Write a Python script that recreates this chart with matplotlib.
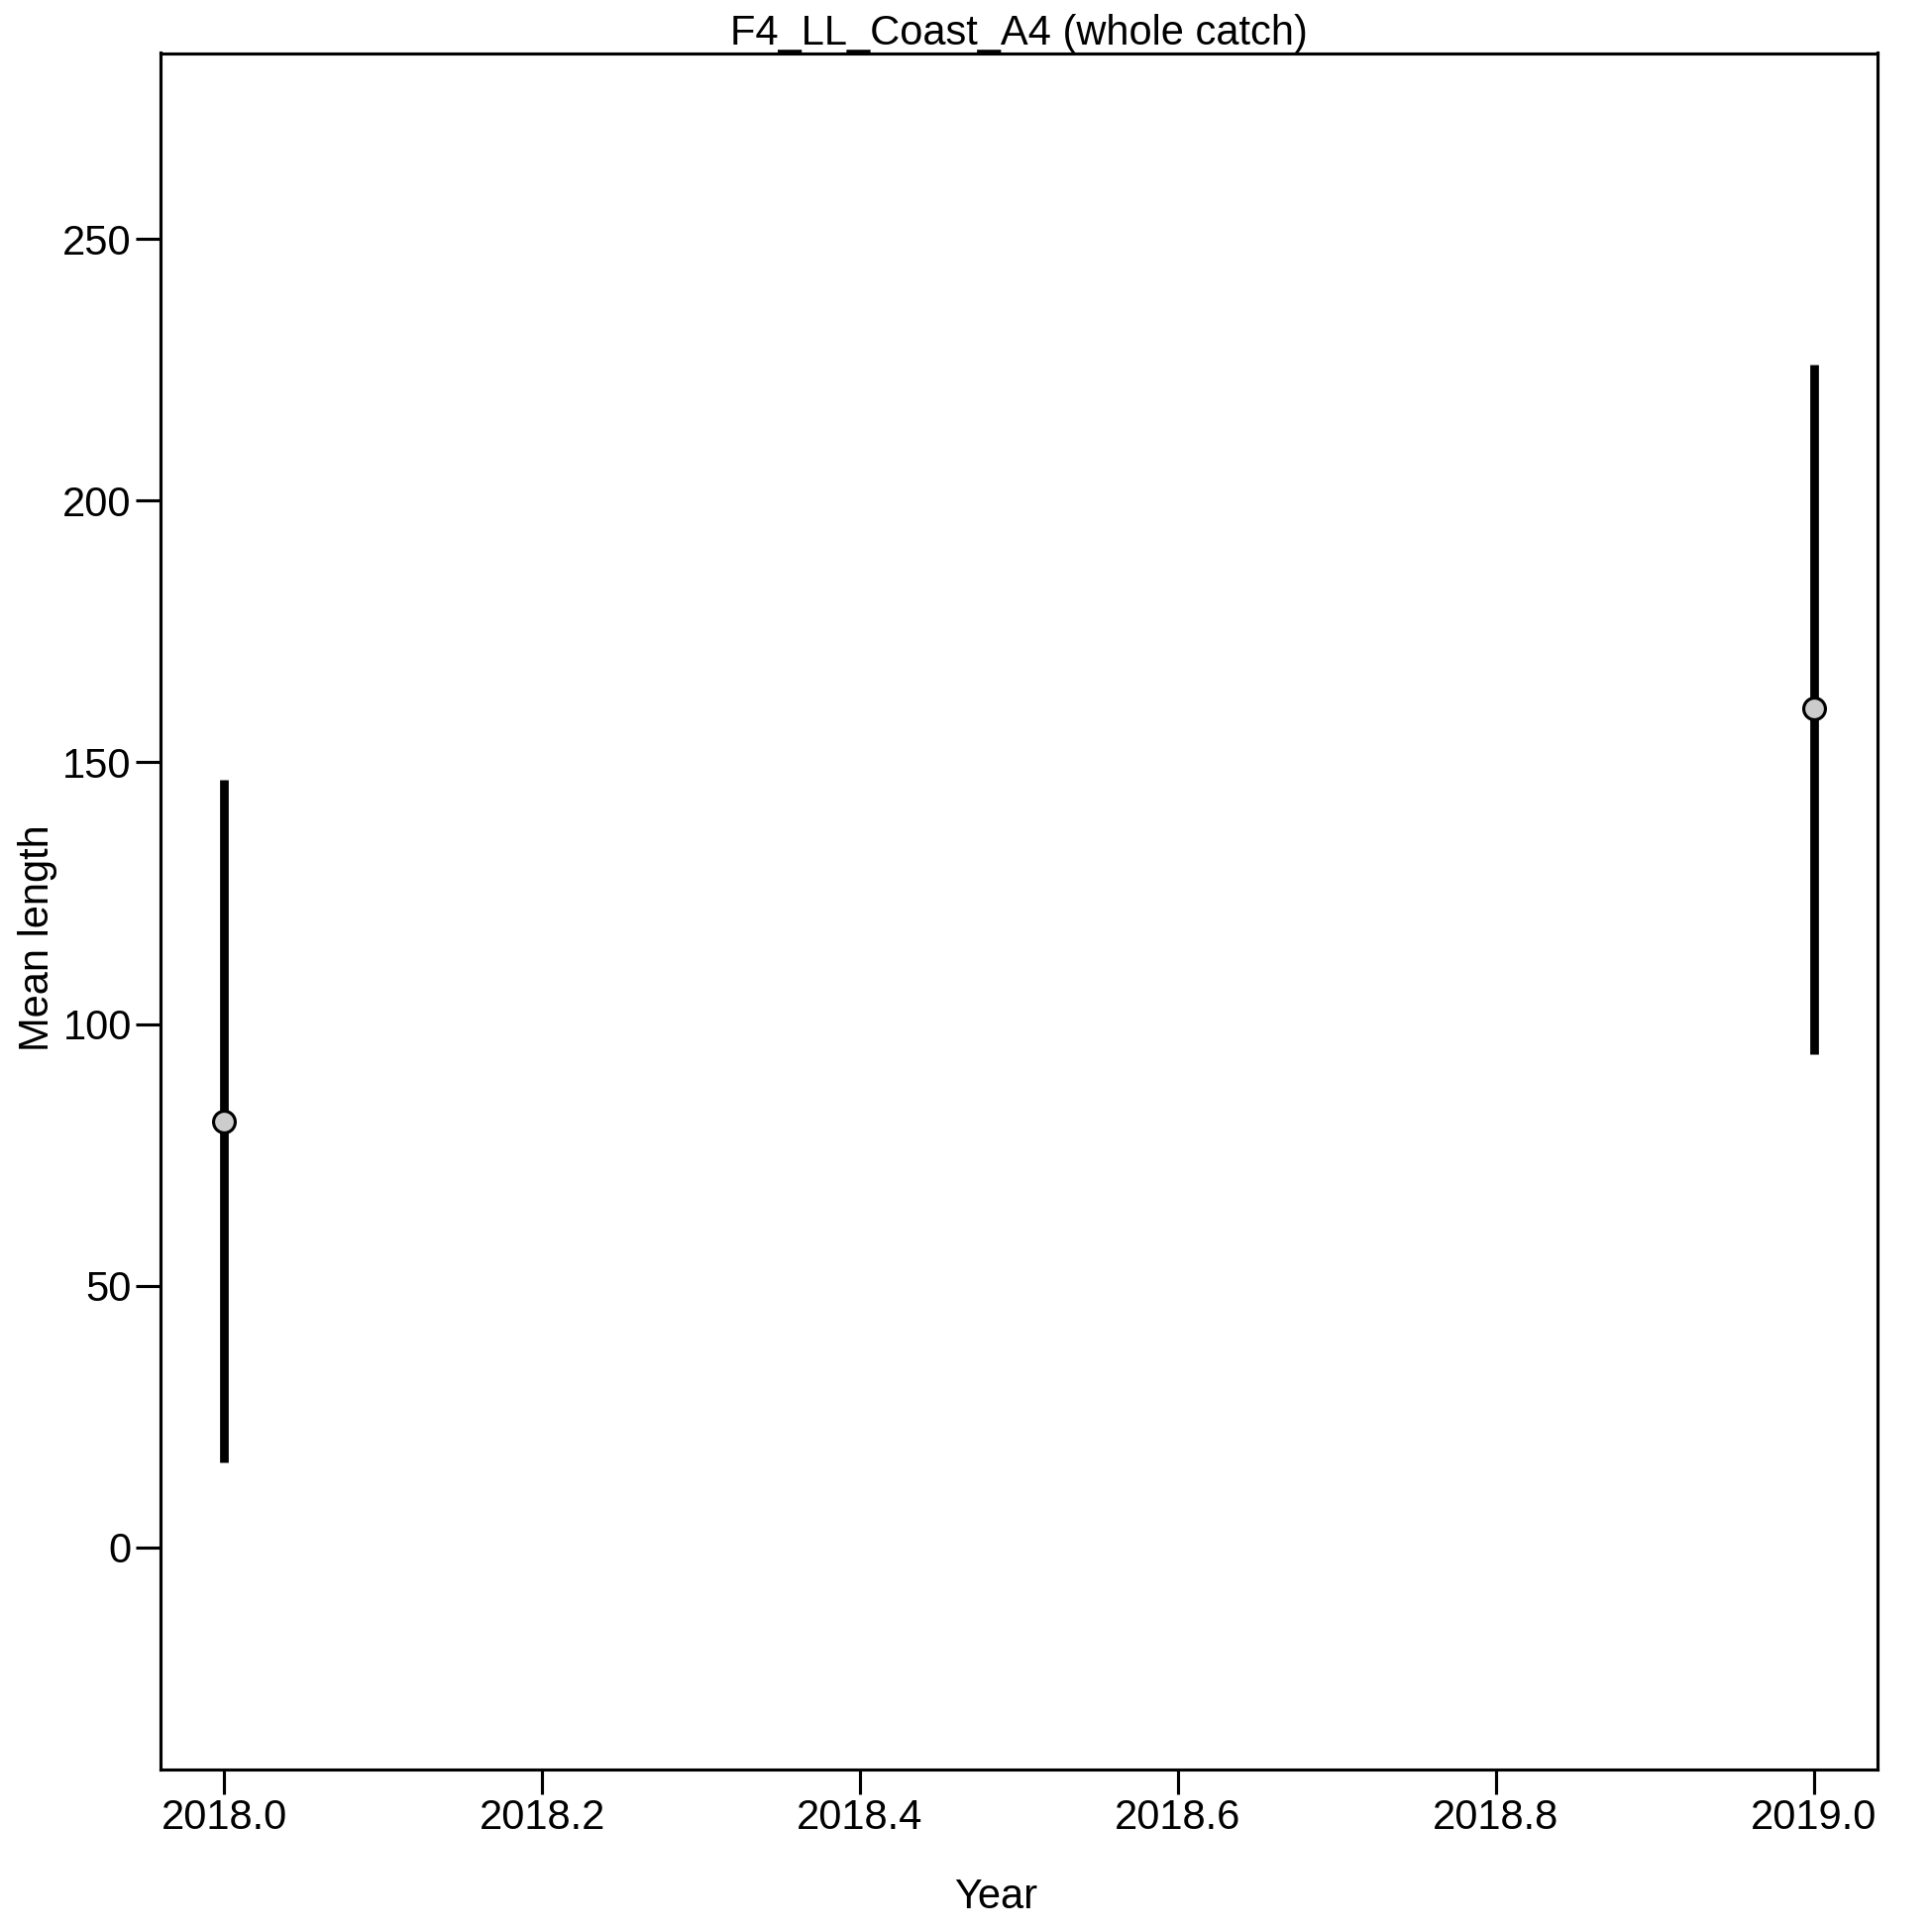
import matplotlib
matplotlib.use("Agg")
import matplotlib.pyplot as plt

plt.rcParams['font.family'] = ['Liberation Sans', 'DejaVu Sans']

years = [2018.0, 2019.0]
mean_len = [81.4, 160.3]
lower = [16.2, 94.2]
upper = [146.7, 226.0]
xticks = [2018.0, 2018.2, 2018.4, 2018.6, 2018.8, 2019.0]
yticks = [0, 50, 100, 150, 200, 250]

fig = plt.figure(figsize=(13, 13), dpi=150)
# axes box in pixels of the 1950 px canvas
left, right, top, bottom = 162, 1895, 53.5, 1786
ax = fig.add_axes([left / 1950, 1 - bottom / 1950, (right - left) / 1950, (bottom - top) / 1950])

for x, lo, hi in zip(years, lower, upper):
    ax.plot([x, x], [lo, hi], color='black', lw=4.2, solid_capstyle='butt', zorder=2)
ax.plot(years, mean_len, 'o', ms=10.5, mfc='#cccccc', mec='black', mew=1.5, zorder=3)

ax.set_xlim(2017.96, 2019.04)
ax.set_ylim(-42.4, 285.5)
ax.set_xticks(xticks)
ax.set_xticklabels([f"{v:.1f}" for v in xticks])
ax.set_yticks(yticks)
for s in ax.spines.values():
    s.set_linewidth(1.5)
ax.tick_params(direction='out', length=12, width=1.5, labelsize=20, pad=2)
ax.set_xlabel('Year', fontsize=20, va='center')
ax.set_ylabel('Mean length', fontsize=20, va='center')
ax.xaxis.set_label_coords(0.4864, -0.0747)
ax.yaxis.set_label_coords(-0.0717, 0.4846)
ax.set_title('F4_LL_Coast_A4 (whole catch)', fontsize=20, pad=1)

fig.savefig('out.png', dpi=150)
